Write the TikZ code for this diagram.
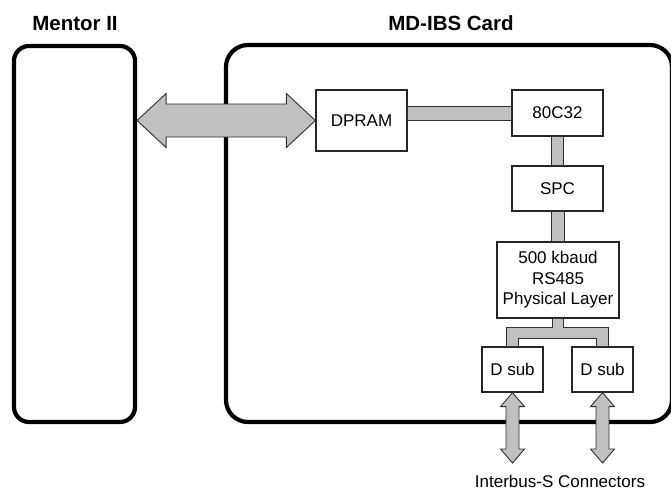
\documentclass[tikz,border=0pt]{standalone}
\usepackage{fontspec}
\setmainfont{Liberation Sans}
\usetikzlibrary{calc}
\definecolor{busgray}{HTML}{C0C0C0}
\definecolor{edgegray}{HTML}{303030}
\tikzset{
  bigbox/.style={draw=black, line width=4.2pt, inner sep=0pt},
  blockbox/.style={draw=black!85, line width=1.3pt, fill=white, inner sep=0pt, align=center,
                   font=\fontsize{17}{20.5}\selectfont},
  titletext/.style={anchor=base, font=\fontsize{20.5}{24}\selectfont\bfseries},
  plaintext/.style={anchor=base, font=\fontsize{17}{20.5}\selectfont},
  bus/.style={fill=busgray, draw=edgegray, line width=0.9pt, line join=miter},
  fatarrow/.style={fill=busgray, draw=edgegray, line width=0.9pt, line join=miter}
}
\begin{document}
\begin{tikzpicture}[x=1pt, y=-1pt]
\useasboundingbox (0,0) rectangle (671,493);

% titles
\node[titletext] (mentorlbl) at (75,30) {Mentor II};
\node[titletext] (cardlbl) at (451,30) {MD-IBS Card};

% outer boxes
\node[bigbox, rounded corners=15pt, minimum width=121pt, minimum height=376pt] (mentor) at (74.5,234) {};
\node[bigbox, rounded corners=22pt, minimum width=446pt, minimum height=377pt] (card) at (449,233.5) {};

% blocks
\node[blockbox, minimum width=91pt, minimum height=61pt] (dpram) at (361.5,120.5) {DPRAM};
\node[blockbox, minimum width=91pt, minimum height=46pt] (cpu) at (557.5,113) {80C32};
\node[blockbox, minimum width=91pt, minimum height=45pt] (spc) at (557.5,188.5) {SPC};
\node[blockbox, minimum width=122pt, minimum height=76pt] (phy) at (558,280) {500 kbaud\\RS485\\Physical Layer};
\node[blockbox, minimum width=61pt, minimum height=45pt] (dsubl) at (512.5,369.5) {D sub};
\node[blockbox, minimum width=61pt, minimum height=45pt] (dsubr) at (602.5,369.5) {D sub};

% buses
\draw[bus] ($(dpram.east|-cpu.center)+(0,-7)$) rectangle ($(cpu.west)+(0,7)$);
\draw[bus] ($(cpu.south)+(-6,0)$) rectangle ($(spc.north)+(6,0)$);
\draw[bus] ($(spc.south)+(-6,0)$) rectangle ($(phy.north)+(6,0)$);

\coordinate (brT) at ($(phy.south)+(0,9)$);
\coordinate (brB) at ($(phy.south)+(0,20)$);
\draw[bus] ($(phy.south)+(-5.5,0)$) -- ($(brT)+(-5.5,0)$)
  -- ($(dsubl.north|-brT)+(-6,0)$) -- ($(dsubl.north)+(-6,0)$)
  -- ($(dsubl.north)+(6,0)$) -- ($(dsubl.north|-brB)+(6,0)$)
  -- ($(dsubr.north|-brB)+(-6,0)$) -- ($(dsubr.north)+(-6,0)$)
  -- ($(dsubr.north)+(6,0)$) -- ($(dsubr.north|-brT)+(6,0)$)
  -- ($(brT)+(5.5,0)$) -- ($(phy.south)+(5.5,0)$) -- cycle;

% big double arrow Mentor <-> DPRAM
\coordinate (aL) at (mentor.east|-dpram.west);
\coordinate (aR) at (dpram.west);
\draw[fatarrow] (aL) -- ($(aL)+(29,-27)$) -- ($(aL)+(29,-16.5)$) -- ($(aR)+(-29,-16.5)$)
  -- ($(aR)+(-29,-27)$) -- (aR) -- ($(aR)+(-29,27)$) -- ($(aR)+(-29,16.5)$)
  -- ($(aL)+(29,16.5)$) -- ($(aL)+(29,27)$) -- cycle;

% vertical double arrows from D subs
\coordinate (endl) at (512.5,463);
\coordinate (endr) at (602.5,463);
\draw[fatarrow] (dsubl.south) -- ($(dsubl.south)+(12,14)$) -- ($(dsubl.south)+(6.5,14)$)
  -- ($(endl)+(6.5,-14)$) -- ($(endl)+(12,-14)$) -- (endl) -- ($(endl)+(-12,-14)$)
  -- ($(endl)+(-6.5,-14)$) -- ($(dsubl.south)+(-6.5,14)$) -- ($(dsubl.south)+(-12,14)$) -- cycle;
\draw[fatarrow] (dsubr.south) -- ($(dsubr.south)+(12,14)$) -- ($(dsubr.south)+(6.5,14)$)
  -- ($(endr)+(6.5,-14)$) -- ($(endr)+(12,-14)$) -- (endr) -- ($(endr)+(-12,-14)$)
  -- ($(endr)+(-6.5,-14)$) -- ($(dsubr.south)+(-6.5,14)$) -- ($(dsubr.south)+(-12,14)$) -- cycle;

\node[plaintext] (conlbl) at (560,487) {Interbus-S Connectors};
\end{tikzpicture}
\end{document}
